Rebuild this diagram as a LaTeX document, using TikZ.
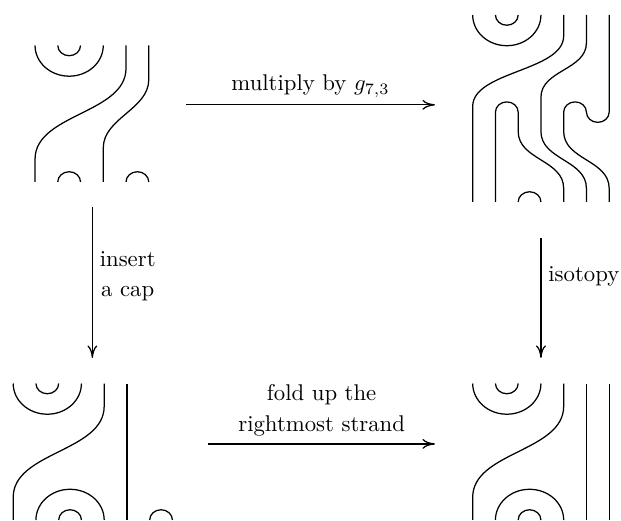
\documentclass[tikz,border=0pt]{standalone}
\usetikzlibrary{positioning,arrows.meta}

\tikzset{
  strand/.style={line width=0.55pt},
  arr/.style={-{To[length=5.5pt,width=4.4pt]},line width=0.55pt},
  lbl/.style={align=center,inner sep=3pt}
}

\begin{document}
\begin{tikzpicture}[x=10pt,y=10pt]
\useasboundingbox (0,0) rectangle (27.3,22.9);

% top left
\begin{scope}[shift={(1.54,14.9)},strand]
\draw (0,6) arc[start angle=180,end angle=360,x radius=1.5,y radius=1.35];
\draw (1,6) arc[start angle=180,end angle=360,x radius=0.5,y radius=0.45];
\draw (4,6) -- (4,5) .. controls (4,3) and (0,3) .. (0,1) -- (0,0);
\draw (5,6) -- (5,4.5) .. controls (5,3.2) and (3,2.8) .. (3,1.5) -- (3,0);
\draw (1,0) arc[start angle=180,end angle=0,x radius=0.5,y radius=0.45];
\draw (4,0) arc[start angle=180,end angle=0,x radius=0.5,y radius=0.45];
\end{scope}

% top right
\begin{scope}[shift={(20.78,14.02)},strand]
\draw (0,8.22) arc[start angle=180,end angle=360,x radius=1.5,y radius=1.35];
\draw (1,8.22) arc[start angle=180,end angle=360,x radius=0.5,y radius=0.45];
\draw (4,8.22) -- (4,7.3) .. controls (4,5.75) and (0,5.75) .. (0,4.2) -- (0,0);
\draw (5,8.22) -- (5,7.0) .. controls (5,5.8) and (3,5.8) .. (3,4.6) -- (3,3.1)
  .. controls (3,1.85) and (5,1.85) .. (5,0.6) -- (5,0);
\draw (6,8.22) -- (6,3.95) arc[start angle=0,end angle=-180,x radius=0.5,y radius=0.45]
  arc[start angle=0,end angle=180,x radius=0.5,y radius=0.45] -- (4,3.1)
  .. controls (4,1.85) and (6,1.85) .. (6,0.6) -- (6,0);
\draw (1,0) -- (1,3.95) arc[start angle=180,end angle=0,x radius=0.5,y radius=0.45]
  -- (2,3.1) .. controls (2,1.85) and (4,1.85) .. (4,0.6) -- (4,0);
\draw (2,0) arc[start angle=180,end angle=0,x radius=0.5,y radius=0.45];
\end{scope}

% bottom left
\begin{scope}[shift={(0.58,0.04)},strand]
\draw (0,6) arc[start angle=180,end angle=360,x radius=1.5,y radius=1.35];
\draw (1,6) arc[start angle=180,end angle=360,x radius=0.5,y radius=0.45];
\draw (4,6) -- (4,5) .. controls (4,3) and (0,3) .. (0,1) -- (0,0);
\draw (5,6) -- (5,0);
\draw (1,0) arc[start angle=180,end angle=0,x radius=1.5,y radius=1.35];
\draw (2,0) arc[start angle=180,end angle=0,x radius=0.5,y radius=0.45];
\draw (6,0) arc[start angle=180,end angle=0,x radius=0.5,y radius=0.45];
\end{scope}

% bottom right
\begin{scope}[shift={(20.78,0.04)},strand]
\draw (0,6) arc[start angle=180,end angle=360,x radius=1.5,y radius=1.35];
\draw (1,6) arc[start angle=180,end angle=360,x radius=0.5,y radius=0.45];
\draw (4,6) -- (4,5) .. controls (4,3) and (0,3) .. (0,1) -- (0,0);
\draw (5,6) -- (5,0);
\draw (6,6) -- (6,0);
\draw (1,0) arc[start angle=180,end angle=0,x radius=1.5,y radius=1.35];
\draw (2,0) arc[start angle=180,end angle=0,x radius=0.5,y radius=0.45];
\end{scope}

% arrows
\coordinate (mulA) at (8.18,18.29);
\coordinate (mulB) at (19.12,18.29);
\coordinate (capA) at (4.06,13.82);
\coordinate (capB) at (4.06,7.165);
\coordinate (isoA) at (23.78,12.44);
\coordinate (isoB) at (23.78,7.165);
\coordinate (foldA) at (9.16,3.385);
\coordinate (foldB) at (19.12,3.385);

\draw[arr] (mulA) -- node[lbl,above] (mullbl) {multiply by $g_{7,3}$} (mulB);
\draw[arr] (capA) -- node[lbl,right,pos=0.46] (caplbl) {insert\\[1.2pt] a cap} (capB);
\draw[arr] (isoA) -- node[lbl,right,pos=0.32] (isolbl) {isotopy} (isoB);
\draw[arr] (foldA) -- node[lbl,above] (foldlbl) {fold up the\\[1.8pt] rightmost strand} (foldB);
\end{tikzpicture}
\end{document}
